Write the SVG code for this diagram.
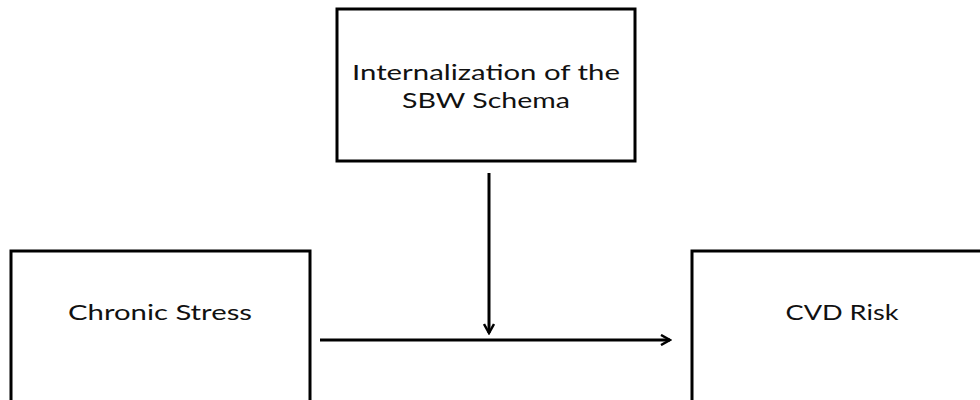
<svg xmlns="http://www.w3.org/2000/svg" width="980" height="400" viewBox="0 0 980 400">
<defs>
<style>
.box{fill:#fff;stroke:#000;stroke-width:3}
.lbl{font-family:Lato,"Open Sans",sans-serif;font-size:22px;fill:#111;text-anchor:middle}
.conn{stroke:#000;stroke-width:3;fill:none}
</style>
<marker id="arr" viewBox="0 0 12 12" refX="10" refY="6" markerWidth="12" markerHeight="12" markerUnits="userSpaceOnUse" orient="auto">
<path d="M1,1 L10,6 L1,11" fill="none" stroke="#000" stroke-width="2.5"/>
</marker>
</defs>
<rect width="980" height="400" fill="#fff"/>
<g id="node-internalization">
<rect class="box" x="337" y="9" width="298" height="152"/>
<text class="lbl" x="486" y="80" textLength="268" lengthAdjust="spacingAndGlyphs">Internalization of the</text>
<text class="lbl" x="486" y="108" textLength="168" lengthAdjust="spacingAndGlyphs">SBW Schema</text>
</g>
<g id="node-chronic-stress">
<rect class="box" x="11" y="251" width="299" height="160"/>
<text class="lbl" x="160" y="320" textLength="184" lengthAdjust="spacingAndGlyphs">Chronic Stress</text>
</g>
<g id="node-cvd-risk">
<rect class="box" x="692" y="251" width="300" height="160"/>
<text class="lbl" x="842" y="320" textLength="113" lengthAdjust="spacingAndGlyphs">CVD Risk</text>
</g>
<g id="connectors">
<line class="conn" x1="489" y1="173" x2="489" y2="333" marker-end="url(#arr)"/>
<line class="conn" x1="320" y1="340" x2="670" y2="340" marker-end="url(#arr)"/>
</g>
</svg>
